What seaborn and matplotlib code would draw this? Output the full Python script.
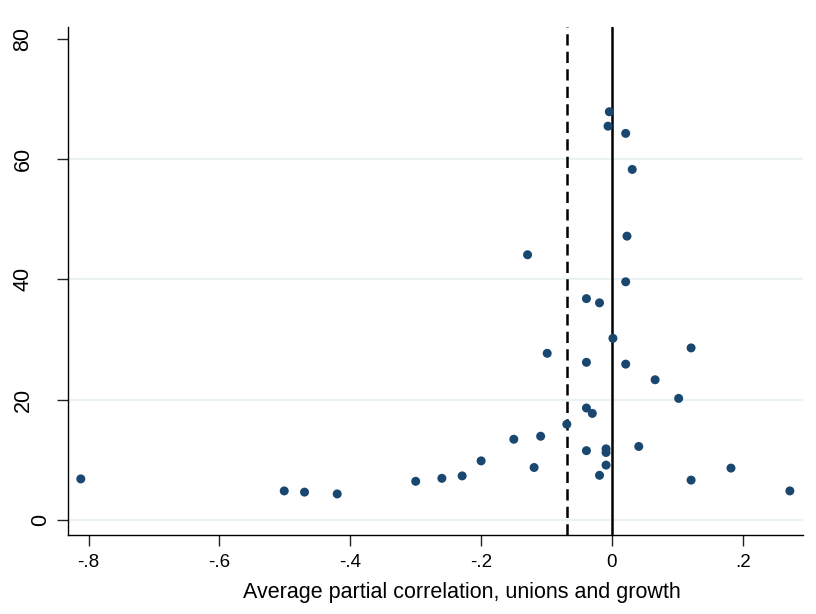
import matplotlib
matplotlib.use("Agg")
import matplotlib.pyplot as plt
import seaborn as sns
import pandas as pd

# Study-level estimates: average partial correlation vs. precision
pcc = [-0.004, -0.006, 0.021, 0.031, 0.023, -0.129, 0.021, -0.039, -0.019,
       0.0015, -0.099, 0.121, -0.039, 0.021, 0.066, 0.102, -0.039, -0.030,
       -0.069, -0.150, -0.109, -0.039, -0.009, -0.009, 0.041, -0.200, -0.119,
       -0.009, -0.019, 0.121, -0.300, -0.260, -0.229, 0.182, 0.272, -0.812,
       -0.501, -0.470, -0.420]
precision = [67.9, 65.5, 64.3, 58.3, 47.2, 44.1, 39.6, 36.8, 36.1,
             30.2, 27.7, 28.6, 26.2, 25.9, 23.3, 20.2, 18.6, 17.7,
             15.9, 13.4, 13.9, 11.5, 11.8, 11.2, 12.2, 9.8, 8.7,
             9.1, 7.4, 6.6, 6.4, 6.9, 7.3, 8.6, 4.8, 6.8,
             4.8, 4.6, 4.3]
mean_effect = -0.068
x_ticks = [-0.8, -0.6, -0.4, -0.2, 0.0, 0.2]
x_labels = ["-.8", "-.6", "-.4", "-.2", "0", ".2"]
y_ticks = [0, 20, 40, 60, 80]
grid_levels = [0, 20, 40, 60]

df = pd.DataFrame({"pcc": pcc, "precision": precision})

sns.set_style("white")
plt.rcParams["font.family"] = ["Liberation Sans", "DejaVu Sans"]

fig = plt.figure(figsize=(8.16, 6.14), dpi=100)
ax = fig.add_axes([0.083, 0.129, 0.901, 0.827])

for y in grid_levels:
    ax.axhline(y, color="#eaf2f3", lw=1.6, zorder=0)

ax.axvline(mean_effect, color="black", lw=1.8, ls=(0, (4.5, 2.5)), zorder=1)
ax.axvline(0, color="black", lw=1.8, zorder=1)

sns.scatterplot(data=df, x="pcc", y="precision", ax=ax, color="#1a476f",
                s=42, edgecolor="none", zorder=3, legend=False)

ax.set_xlim(-0.832, 0.292)
ax.set_ylim(-2.5, 82)
ax.set_xticks(x_ticks)
ax.set_xticklabels(x_labels)
ax.set_yticks(y_ticks)
ax.set_yticklabels([str(v) for v in y_ticks], rotation=90, va="center")
ax.tick_params(axis="both", direction="out", length=8, width=1, color="#222222",
               labelcolor="black")
ax.tick_params(axis="x", bottom=True, pad=6, labelsize=13.5)
ax.tick_params(axis="y", left=True, pad=4, labelsize=15.5)

# multi-digit rotated labels sit further from the axis
for lab in ax.get_yticklabels():
    if len(lab.get_text()) > 1:
        lab.set_x(-0.024)

for side in ("top", "right"):
    ax.spines[side].set_visible(False)
for side in ("left", "bottom"):
    ax.spines[side].set_color("black")
    ax.spines[side].set_linewidth(1)

ax.set_xlabel("Average partial correlation, unions and growth", fontsize=15.5,
              labelpad=8, color="black")
ax.xaxis.label.set_x(0.536)
ax.set_ylabel("")

fig.savefig("out.png", dpi=100, facecolor="white")
